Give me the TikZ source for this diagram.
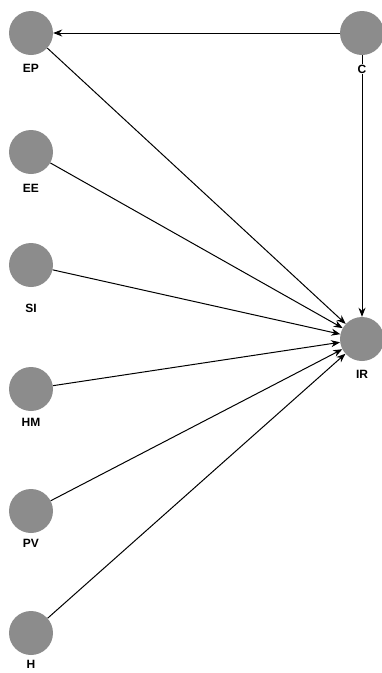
\documentclass[tikz,border=0pt]{standalone}
\usepackage{fontspec}
\setmainfont{Liberation Sans}
\usetikzlibrary{arrows.meta}
\definecolor{nodegray}{RGB}{140,140,140}
\begin{document}
\begin{tikzpicture}[x=1pt,y=-1pt,
  latent/.style={circle,fill=nodegray,draw=none,minimum size=44pt,inner sep=0pt},
  lbl/.style={font=\fontsize{12}{14}\selectfont\bfseries,inner sep=1pt},
  path/.style={draw=black,line width=1pt,-{Stealth[length=9pt,width=7pt]}}]
\useasboundingbox (0,0) rectangle (382,673);
\node[latent] (EP) at (31,33) {};
\node[latent] (C) at (362,33) {};
\node[latent] (EE) at (31,152) {};
\node[latent] (SI) at (31,265) {};
\node[latent] (IR) at (362,339) {};
\node[latent] (HM) at (31,389) {};
\node[latent] (PV) at (31,511) {};
\node[latent] (H) at (31,633) {};
\node[lbl] (EPl) at (31,68) {EP};
\node[lbl] (EEl) at (31,188) {EE};
\node[lbl] (SIl) at (31,308) {SI};
\node[lbl] (HMl) at (31,422) {HM};
\node[lbl] (PVl) at (31,543) {PV};
\node[lbl] (Hl) at (31,664) {H};
\node[lbl] (IRl) at (362,374) {IR};
\draw[path] (C) -- (EP);
\draw[path] (C) -- (IR);
\node[lbl,fill=white] (Cl) at (362,69) {C};
\draw[path] (EP) -- (IR);
\draw[path] (EE) -- (IR);
\draw[path] (SI) -- (IR);
\draw[path] (HM) -- (IR);
\draw[path] (PV) -- (IR);
\draw[path] (H) -- (IR);
\end{tikzpicture}
\end{document}
